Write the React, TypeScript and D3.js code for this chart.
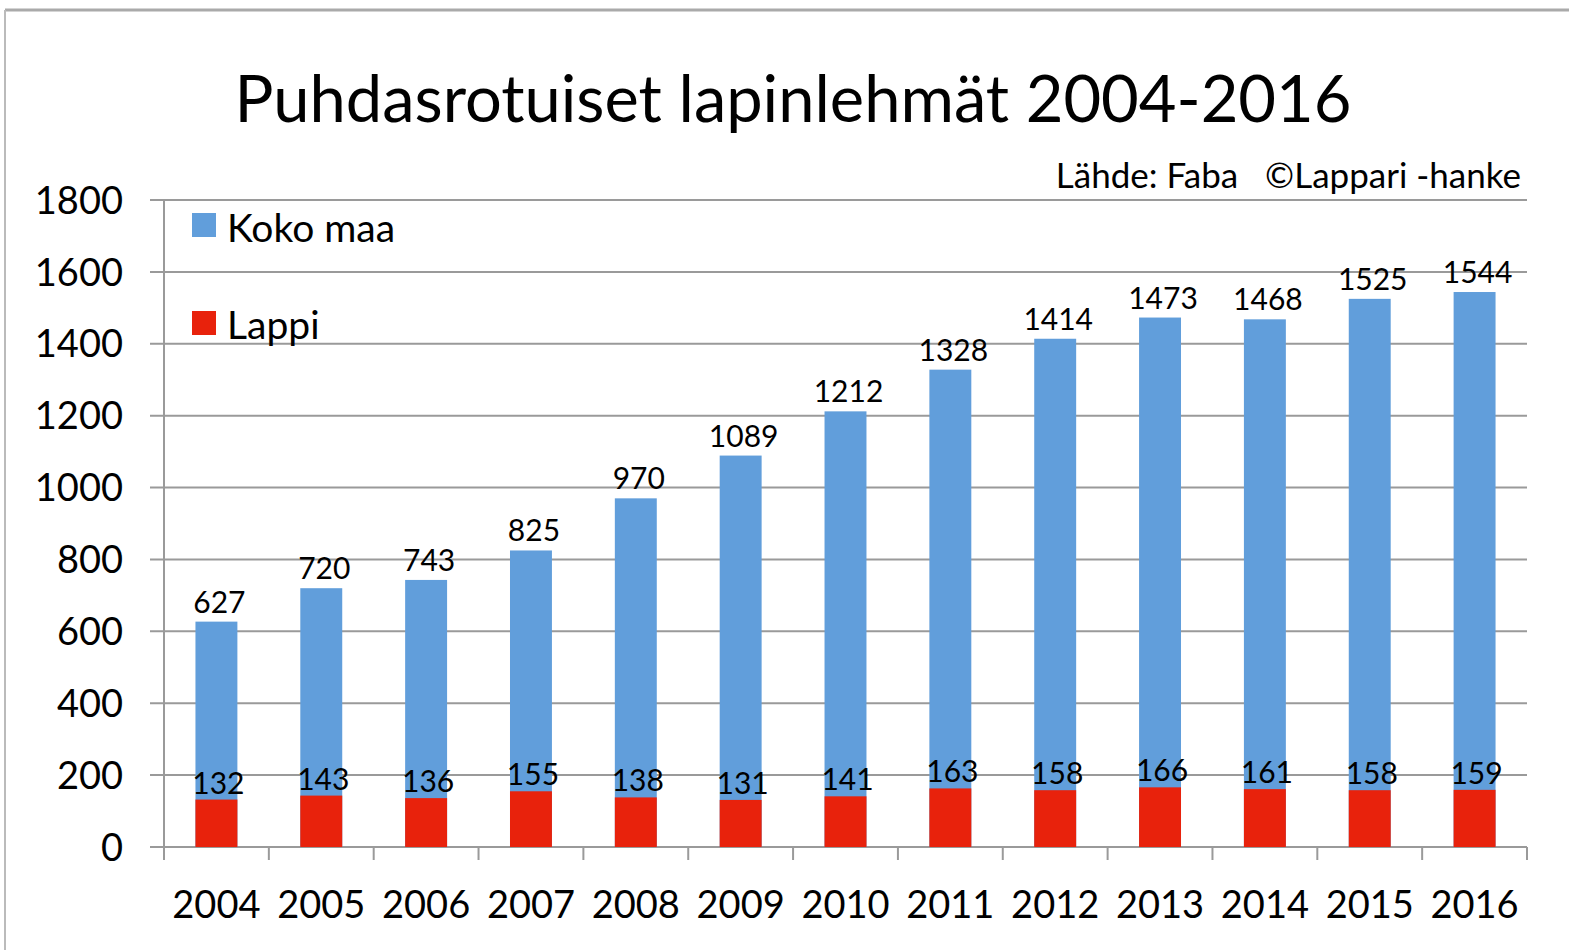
import React from 'react';
import * as d3 from 'd3';

const years = ['2004', '2005', '2006', '2007', '2008', '2009', '2010', '2011', '2012', '2013', '2014', '2015', '2016'];
const kokoMaa = [627, 720, 743, 825, 970, 1089, 1212, 1328, 1414, 1473, 1468, 1525, 1544];
const lappi = [132, 143, 136, 155, 138, 131, 141, 163, 158, 166, 161, 158, 159];
const yTicks = [0, 200, 400, 600, 800, 1000, 1200, 1400, 1600, 1800];

const BLUE = '#619edb';
const RED = '#e8220c';
const GRID = '#9a9a9a';
const FONT = 'Lato, "Open Sans", sans-serif';

const App = () => {
  const width = 1569;
  const height = 950;
  const margin = { top: 200, right: 42, bottom: 103, left: 164 };

  const x = d3.scaleBand()
    .domain(years)
    .range([margin.left, width - margin.right])
    .paddingInner(0.6)
    .paddingOuter(0.3);

  const y = d3.scaleLinear()
    .domain([0, 1800])
    .range([height - margin.bottom, margin.top]);

  const step = x.step();
  const x0 = margin.left;
  const x1 = width - margin.right;

  return (
    <svg width={width} height={height} style={{ position: 'absolute', left: 0, top: 0 }} fontFamily={FONT}>
      <rect width={width} height={height} fill="#fff" />
      {/* outer frame */}
      <line x1={5} x2={width} y1={10} y2={10} stroke="#aaa" strokeWidth={3} />
      <line x1={5} x2={5} y1={10} y2={height} stroke="#bbb" strokeWidth={2} />

      <text x={793} y={122} textAnchor="middle" fontSize={65} fill="#000">
        Puhdasrotuiset lapinlehmät 2004-2016
      </text>
      <text x={1521} y={188} textAnchor="end" fontSize={35} fill="#000" xmlSpace="preserve">
        Lähde: Faba   ©Lappari -hanke
      </text>

      {/* gridlines and y axis */}
      {yTicks.map(t => (
        <g key={t}>
          <line x1={x0 - 14} x2={x1} y1={y(t)} y2={y(t)} stroke={GRID} strokeWidth={2} />
          <text x={123} y={y(t)} dy="0.36em" textAnchor="end" fontSize={38} fill="#000">{t}</text>
        </g>
      ))}
      <line x1={x0} x2={x0} y1={y(1800)} y2={y(0) + 13} stroke={GRID} strokeWidth={2} />
      {d3.range(years.length + 1).map(i => (
        <line key={i} x1={x0 + i * step} x2={x0 + i * step} y1={y(0)} y2={y(0) + 13} stroke={GRID} strokeWidth={2} />
      ))}

      {/* bars: Koko maa behind, Lappi drawn over it from zero */}
      {years.map((yr, i) => (
        <g key={yr}>
          <rect x={x(yr)} y={y(kokoMaa[i])} width={x.bandwidth()} height={y(0) - y(kokoMaa[i])} fill={BLUE} />
          <rect x={x(yr)} y={y(lappi[i])} width={x.bandwidth()} height={y(0) - y(lappi[i])} fill={RED} />
          <text x={x(yr) + x.bandwidth() / 2 + 3} y={y(kokoMaa[i]) - 9} textAnchor="middle" fontSize={30} fill="#000">{kokoMaa[i]}</text>
          <text x={x(yr) + x.bandwidth() / 2 + 2} y={y(lappi[i]) - 6} textAnchor="middle" fontSize={30} fill="#000">{lappi[i]}</text>
          <text x={x0 + (i + 0.5) * step} y={918} textAnchor="middle" fontSize={38} fill="#000">{yr}</text>
        </g>
      ))}

      {/* legend */}
      <rect x={192} y={213} width={24} height={24} fill={BLUE} />
      <text x={227} y={242} fontSize={39} fill="#000">Koko maa</text>
      <rect x={192} y={311} width={24} height={24} fill={RED} />
      <text x={227} y={339} fontSize={39} fill="#000">Lappi</text>
    </svg>
  );
};

export default App;
